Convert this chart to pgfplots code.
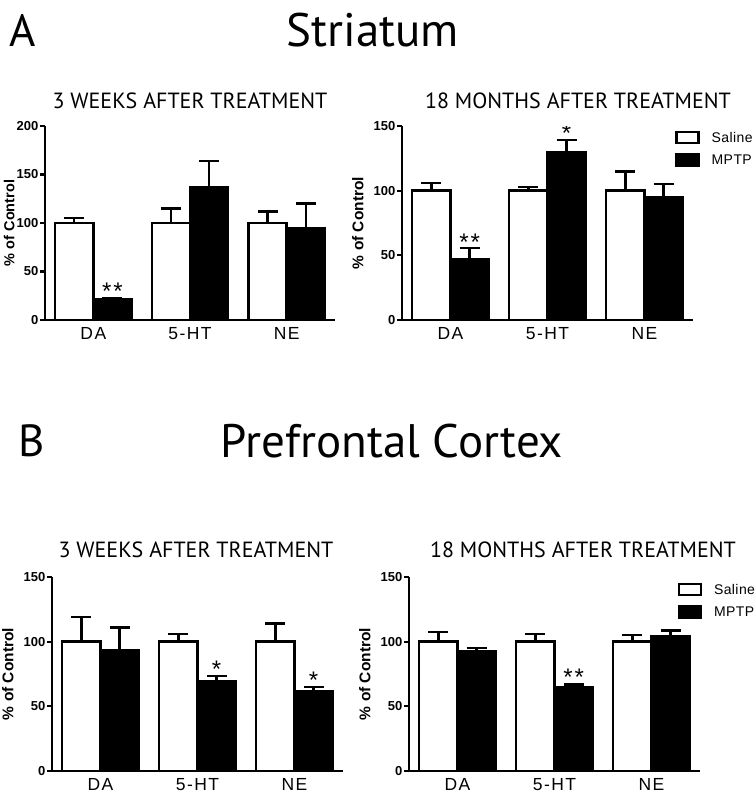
\documentclass[border=0pt]{standalone}
\usepackage{fontspec}
\setmainfont{Liberation Sans}
\newfontfamily\titlefont{PT Sans}
\newfontfamily\catfont[LetterSpace=8]{Liberation Sans}
\newfontfamily\legfont[LetterSpace=3]{Liberation Sans}
\usepackage{pgfplots}
\usepackage{pgfplotstable}
\pgfplotsset{compat=1.18}

\pgfplotstableread{
x sal salerr mptp mptperr
0 100 5 21 1
1 100 15 137 27
2 100 12 94.5 25.5
}\tAL
\pgfplotstableread{
x sal salerr mptp mptperr
0 100 6 47 8.5
1 100 3 130 9
2 100 15 95 10
}\tAR
\pgfplotstableread{
x sal salerr mptp mptperr
0 100 19 93 18
1 100 6 69 4.5
2 100 14 62 3
}\tBL
\pgfplotstableread{
x sal salerr mptp mptperr
0 100 7.5 92.5 2.6
1 100 6 64.5 2.4
2 100 5 104.5 4.3
}\tBR

\pgfplotsset{
  boxlegend/.style={legend image code/.code={\draw[##1, line width=2.5pt] (0pt,-5pt) rectangle (22pt,6pt);}},
  panel/.style={
    scale only axis, width=291pt, height=194pt,
    axis lines=left, axis line style={-, line width=2.2pt, black},
    xmin=-0.5, xmax=2.5, ymin=0,
    xtick={0,1,2}, xticklabels={DA,5-HT,NE}, xtick style={draw=none},
    x tick label style={font=\catfont\fontsize{17.5}{17.5}\selectfont, inner sep=2pt},
    ytick style={line width=2.2pt, black}, tick align=outside, major tick length=5pt,
    y tick label style={font=\bfseries\fontsize{13}{13}\selectfont, inner sep=1.5pt},
    /pgf/number format/assume math mode=true,
    ylabel={\% of Control},
    ylabel style={font=\bfseries\fontsize{15.5}{15.5}\selectfont, yshift=5pt},
    ybar, bar width=0.395,
    legend style={draw=none, fill=none, inner sep=0pt, row sep=7pt, column sep=10pt,
      font=\legfont\fontsize{14}{14}\selectfont, anchor=north west},
    legend cell align=left,
  },
  sal/.style={fill=white, draw=black, line width=2.6pt, bar shift=-0.1975, boxlegend,
    error bars/.cd, y dir=plus, y explicit,
    error bar style={line width=2.5pt, black},
    error mark options={line width=2.5pt, black, mark size=10pt, rotate=90}},
  mptp/.style={fill=black, draw=black, line width=2.6pt, bar shift=0.1975, boxlegend,
    error bars/.cd, y dir=plus, y explicit,
    error bar style={line width=2.5pt, black},
    error mark options={line width=2.5pt, black, mark size=10pt, rotate=90}},
}
\newcommand{\starfont}{\catfont\fontsize{24}{24}\selectfont}

\begin{document}
\begin{tikzpicture}
% titles
\node[font=\titlefont\fontsize{45}{45}\selectfont, anchor=base west, inner sep=0pt] at (9pt,-47pt) {A};
\node[font=\titlefont\fontsize{47}{47}\selectfont, anchor=base, inner sep=0pt] at (373pt,-47pt) {Striatum};
\node[font=\titlefont\fontsize{22}{22}\selectfont, anchor=base, inner sep=0pt] at (190pt,-109pt) {3 WEEKS AFTER TREATMENT};
\node[font=\titlefont\fontsize{22}{22}\selectfont, anchor=base, inner sep=0pt] at (578pt,-109pt) {18 MONTHS AFTER TREATMENT};
\node[font=\titlefont\fontsize{45}{45}\selectfont, anchor=base west, inner sep=0pt] at (18pt,-456pt) {B};
\node[font=\titlefont\fontsize{47}{47}\selectfont, anchor=base, inner sep=0pt] at (392pt,-457pt) {Prefrontal Cortex};
\node[font=\titlefont\fontsize{22}{22}\selectfont, anchor=base, inner sep=0pt] at (196pt,-557pt) {3 WEEKS AFTER TREATMENT};
\node[font=\titlefont\fontsize{22}{22}\selectfont, anchor=base, inner sep=0pt] at (583pt,-557pt) {18 MONTHS AFTER TREATMENT};

% A left
\begin{axis}[panel, at={(45pt,-320pt)}, anchor=south west, width=290pt, ymax=200, ytick={0,50,100,150,200},
  ylabel style={yshift=-8pt, font=\bfseries\fontsize{14.5}{14.5}\selectfont}]
\addplot[sal] table[x=x, y=sal, y error=salerr] {\tAL};
\addplot[mptp] table[x=x, y=mptp, y error=mptperr] {\tAL};
\node[font=\starfont, anchor=base] at (axis cs:0.1975,21) {**};
\end{axis}

% A right
\begin{axis}[panel, at={(402pt,-320pt)}, anchor=south west, ymax=150, ytick={0,50,100,150},
  legend style={at={(rel axis cs:0.938,0.979)}}]
\addplot[sal] table[x=x, y=sal, y error=salerr] {\tAR};
\addplot[mptp] table[x=x, y=mptp, y error=mptperr] {\tAR};
\legend{Saline,MPTP}
\node[font=\starfont, anchor=base] at (axis cs:0.1975,54) {**};
\node[font=\starfont, anchor=base] at (axis cs:1.1975,138) {*};
\end{axis}

% B left
\begin{axis}[panel, at={(52pt,-771pt)}, anchor=south west, ymax=150, ytick={0,50,100,150}]
\addplot[sal] table[x=x, y=sal, y error=salerr] {\tBL};
\addplot[mptp] table[x=x, y=mptp, y error=mptperr] {\tBL};
\node[font=\starfont, anchor=base] at (axis cs:1.1975,72) {*};
\node[font=\starfont, anchor=base] at (axis cs:2.1975,64) {*};
\end{axis}

% B right
\begin{axis}[panel, at={(409pt,-771pt)}, anchor=south west, ymax=150, ytick={0,50,100,150},
  legend style={at={(rel axis cs:0.922,0.974)}}]
\addplot[sal] table[x=x, y=sal, y error=salerr] {\tBR};
\addplot[mptp] table[x=x, y=mptp, y error=mptperr] {\tBR};
\legend{Saline,MPTP}
\node[font=\starfont, anchor=base] at (axis cs:1.1975,66) {**};
\end{axis}

\pgfresetboundingbox
\path[use as bounding box] (0pt,0pt) rectangle (755pt,-794pt);
\end{tikzpicture}
\end{document}
